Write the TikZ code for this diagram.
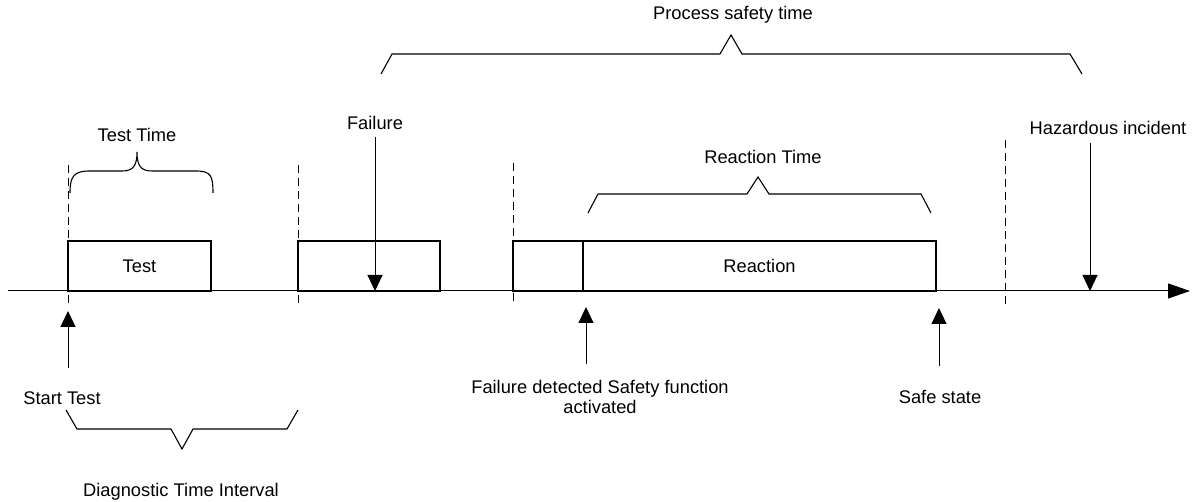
\documentclass[tikz,border=0pt]{standalone}
\usepackage{fontspec}
\setmainfont{Liberation Sans}
\usetikzlibrary{arrows.meta}
\begin{document}
\begin{tikzpicture}[x=1pt,y=-1pt,
  lbl/.style={inner sep=0pt,font=\fontsize{18.3}{20.5}\selectfont,align=center},
  blk/.style={draw,line width=1.7pt,inner sep=0pt,minimum height=50pt,font=\fontsize{18.3}{20.5}\selectfont},
  thin/.style={line width=1pt},
  brc/.style={line width=1.1pt,line join=miter},
  guide/.style={line width=1pt,dash pattern=on 8pt off 5pt},
  evt/.style={line width=1pt,-{Triangle[length=16pt,width=15pt]}},
  axis/.style={line width=1pt,-{Triangle[length=22pt,width=15pt]}}]
\useasboundingbox (0,0) rectangle (1192,502);
% boxes
\node[blk,minimum width=143pt] (test) at (139.5,266) {Test};
\node[blk,minimum width=142pt] (fbox) at (369,266) {};
\node[blk,minimum width=70pt] (dbox) at (548,266) {};
\node[blk,minimum width=353pt] (react) at (759.5,266) {Reaction};
% axis
\coordinate (a0) at (8,291);
\coordinate (a1) at (1190,291);
\draw[axis] (a0) -- (a1);
% dashed guides
\coordinate (g1a) at (68,165); \coordinate (g1b) at (68,303);
\coordinate (g2a) at (298,165); \coordinate (g2b) at (298,303);
\coordinate (g3a) at (513,163); \coordinate (g3b) at (513,302);
\coordinate (g4a) at (1005,140); \coordinate (g4b) at (1005,305);
\draw[guide] (g1a) -- (g1b);
\draw[guide] (g2a) -- (g2b);
\draw[guide] (g3a) -- (g3b);
\draw[guide] (g4a) -- (g4b);
% labels
\node[lbl] (pst) at (733,15) {Process safety time};
\node[lbl] (tt) at (137,135) {Test Time};
\node[lbl] (fail) at (375,123) {Failure};
\node[lbl] (rt) at (763,157) {Reaction Time};
\node[lbl] (haz) at (1108,128) {Hazardous incident};
\node[lbl] (st) at (62,398) {Start Test};
\node[lbl] (fd) at (600,397) {Failure detected Safety function\\activated};
\node[lbl] (ss) at (940,397) {Safe state};
\node[lbl] (dti) at (181,492) {Diagnostic Time Interval};
% event arrows
\coordinate (f0) at (375,137); \coordinate (f1) at (375,291);
\draw[evt] (f0) -- (f1);
\coordinate (h0) at (1090,143); \coordinate (h1) at (1090,291);
\draw[evt] (h0) -- (h1);
\coordinate (s0) at (68,368); \coordinate (s1) at (68,311);
\draw[evt] (s0) -- (s1);
\coordinate (d0) at (586,364); \coordinate (d1) at (586,307);
\draw[evt] (d0) -- (d1);
\coordinate (e0) at (939,366); \coordinate (e1) at (939,308);
\draw[evt] (e0) -- (e1);
% braces
\draw[brc] (381,74) -- (392,54) -- (720,54) -- (731,35) -- (742,54) -- (1070,54) -- (1082,74);
\draw[brc] (588,213) -- (598,194) -- (747,194) -- (758,177) -- (769,194) -- (921,194) -- (931,213);
\draw[brc] (66,410) -- (77,429) -- (171,429) -- (182,449) -- (193,429) -- (287,429) -- (298,410);
\draw[brc] (70,193) .. controls (70,176) and (74,171) .. (90,171) -- (122,171)
  .. controls (133,171) and (137,166) .. (137,152)
  .. controls (137,166) and (141,171) .. (152,171) -- (196,171)
  .. controls (211,171) and (213,176) .. (213,193);
\end{tikzpicture}
\end{document}
